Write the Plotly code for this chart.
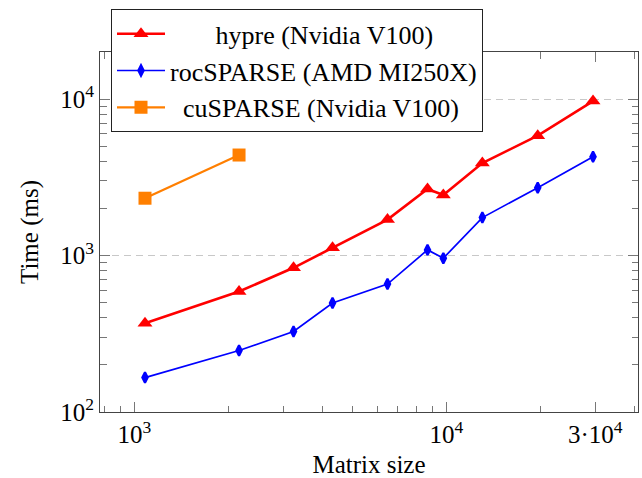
import math
import plotly.graph_objects as go

# Matrix sizes and solve times (ms)
hypre_sizes = [1082, 2166, 3238, 4318, 6479, 8705, 9782, 13047, 19634, 29530]
hypre_times = [369, 589, 835, 1120, 1697, 2666, 2440, 3905, 5833, 9710]

roc_sizes = [1082, 2166, 3238, 4318, 6479, 8705, 9782, 13047, 19634, 29530]
roc_times = [166, 247, 327, 497, 657, 1087, 962, 1748, 2716, 4282]

cu_sizes = [1082, 2166]
cu_times = [2325, 4391]

x_major = [1e3, 1e4, 3e4]
x_major_text = ["10<sup>3</sup>", "10<sup>4</sup>", "3·10<sup>4</sup>"]
x_minor = [800, 900, 2000, 3000, 4000, 5000, 6000, 7000, 8000, 9000, 20000, 40000]
y_major = [1e2, 1e3, 1e4]
y_major_text = ["10<sup>2</sup>", "10<sup>3</sup>", "10<sup>4</sup>"]
y_minor = [200, 300, 400, 500, 600, 700, 800, 900,
           2000, 3000, 4000, 5000, 6000, 7000, 8000, 9000]

FONT = "Liberation Serif"
NBSP = "\u00a0"

x_range = [2.890, 4.6144]
y_range = [2.0, math.log10(2e4)]

fig = go.Figure()

fig.add_trace(go.Scatter(
    x=hypre_sizes, y=hypre_times, mode="lines+markers",
    name=NBSP * 7 + "hypre (Nvidia V100)",
    line=dict(color="#ff0000", width=2.6),
    marker=dict(symbol="triangle-up", size=13, color="#ff0000"),
))
fig.add_trace(go.Scatter(
    x=roc_sizes, y=roc_times, mode="lines+markers",
    name="rocSPARSE (AMD MI250X)",
    line=dict(color="#0000ff", width=1.7),
    marker=dict(symbol="diamond-tall", size=7.5, color="#0000ff",
                line=dict(color="#0000ff", width=2.2)),
))
fig.add_trace(go.Scatter(
    x=cu_sizes, y=cu_times, mode="lines+markers",
    name=NBSP * 2 + "cuSPARSE (Nvidia V100)",
    line=dict(color="#ff7f00", width=2.2),
    marker=dict(symbol="square", size=13, color="#ff7f00"),
))

axis_line = "#444444"
tick_col = "#777777"

fig.update_layout(
    width=642, height=478,
    margin=dict(l=100, r=4, t=52, b=66, autoexpand=False),
    paper_bgcolor="white", plot_bgcolor="white",
    font=dict(family=FONT, size=25, color="black"),
    xaxis=dict(
        type="log", range=x_range, automargin=False,
        tickvals=x_major, ticktext=x_major_text,
        ticks="inside", ticklen=10, tickwidth=1, tickcolor=tick_col,
        showline=True, linecolor=axis_line, linewidth=1, mirror="ticks",
        showgrid=False, zeroline=False,
        tickfont=dict(family=FONT, size=25),
        title=dict(text="Matrix size", font=dict(family=FONT, size=25), standoff=18),
    ),
    yaxis=dict(
        type="log", range=y_range, automargin=False,
        tickvals=y_major, ticktext=y_major_text,
        ticks="inside", ticklen=10, tickwidth=1, tickcolor=tick_col,
        showline=True, linecolor=axis_line, linewidth=1, mirror="ticks",
        showgrid=True, gridcolor="#c8c8c8", gridwidth=1, griddash="7px,5px",
        zeroline=False,
        tickfont=dict(family=FONT, size=25),
        title=dict(text="Time (ms)", font=dict(family=FONT, size=25), standoff=14),
    ),
    # minor tick overlays
    xaxis2=dict(
        type="log", range=x_range, overlaying="x", anchor="y", side="bottom",
        tickvals=x_minor, ticks="inside", ticklen=6.5, tickwidth=1,
        tickcolor=tick_col, showticklabels=False, showgrid=False,
        showline=False, mirror="ticks", zeroline=False, automargin=False,
    ),
    yaxis2=dict(
        type="log", range=y_range, overlaying="y", anchor="x", side="left",
        tickvals=y_minor, ticks="inside", ticklen=6.5, tickwidth=1,
        tickcolor=tick_col, showticklabels=False, showgrid=False,
        showline=False, mirror="ticks", zeroline=False, automargin=False,
    ),
    legend=dict(
        x=(111 - 100) / 538, y=(412 - 9.3) / 360,
        xanchor="left", yanchor="top",
        bgcolor="white", bordercolor="#222222", borderwidth=1,
        font=dict(family=FONT, size=26, color="black"),
        tracegroupgap=0, itemwidth=48,
    ),
    showlegend=True,
)

# invisible trace so the minor-tick axes get drawn
fig.add_trace(go.Scatter(x=[1000], y=[1000], xaxis="x2", yaxis="y2",
                         mode="markers", marker=dict(opacity=0),
                         showlegend=False, hoverinfo="skip"))

fig.write_html("out.html")
